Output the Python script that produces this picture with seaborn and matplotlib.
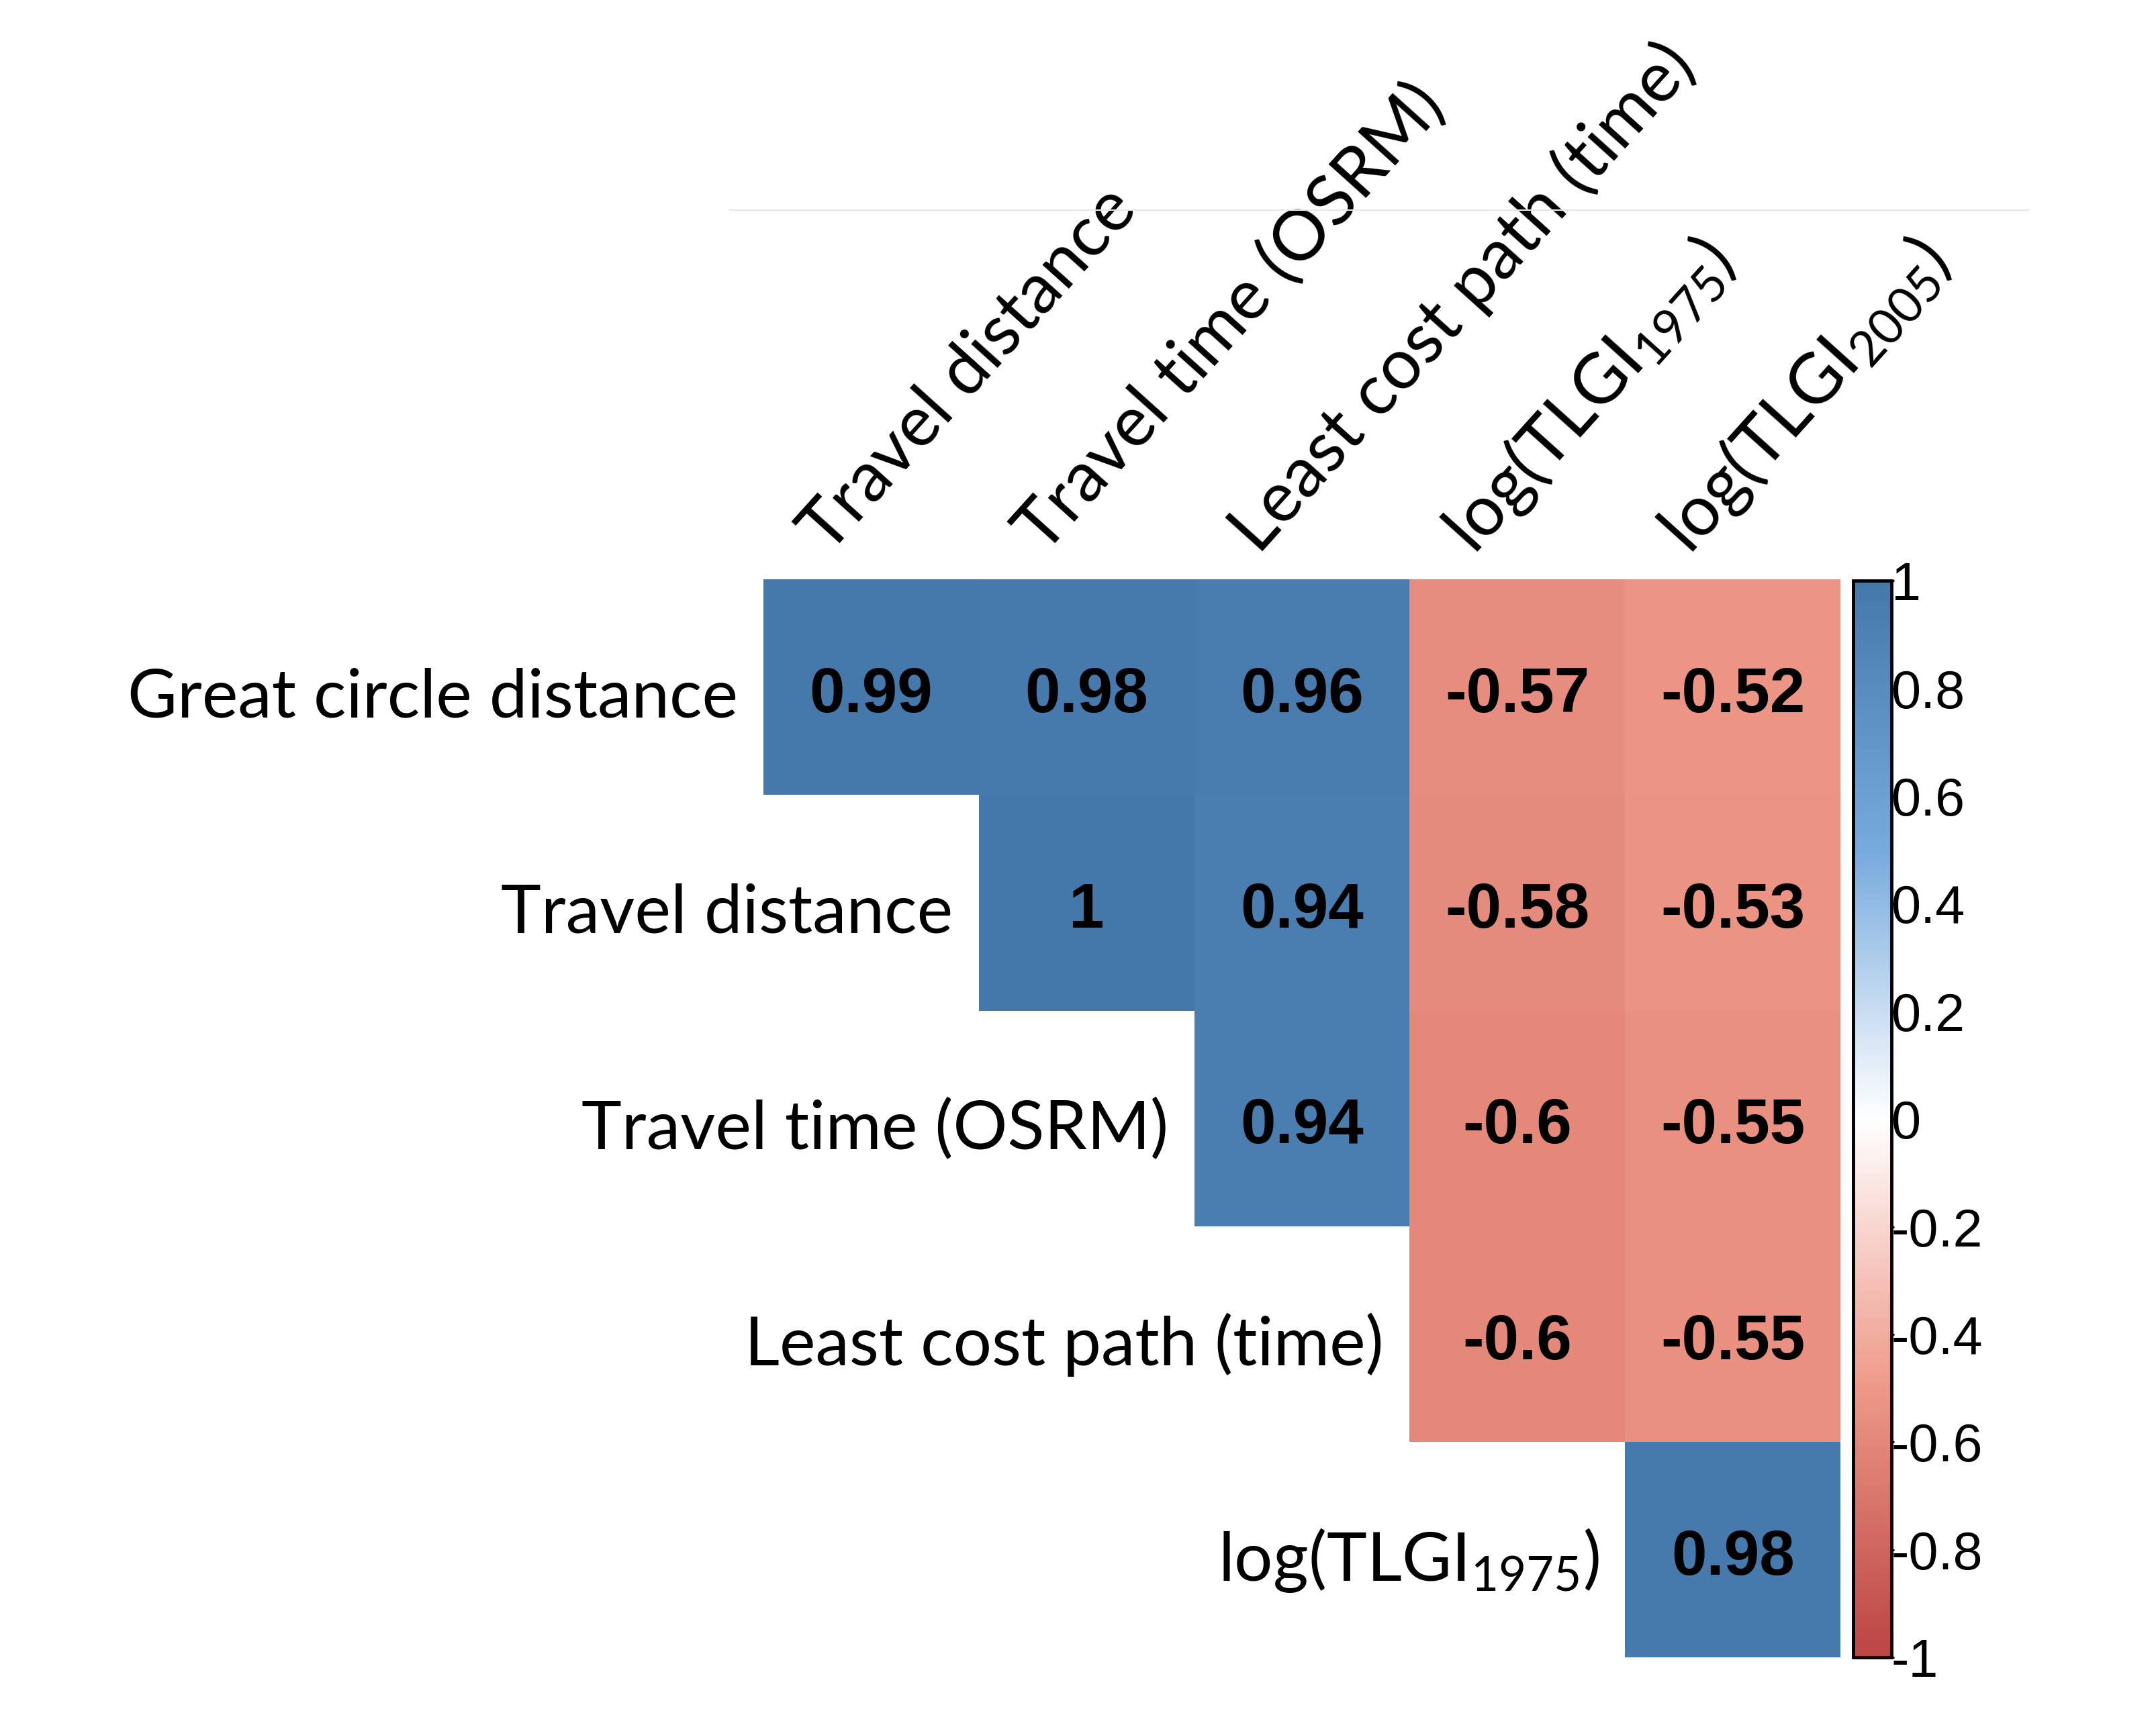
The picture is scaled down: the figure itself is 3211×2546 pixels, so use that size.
import numpy as np
import matplotlib
matplotlib.use("Agg")
import matplotlib.pyplot as plt
from matplotlib.colors import LinearSegmentedColormap
from matplotlib.lines import Line2D
import seaborn as sns

# correlation values (upper triangle only)
row_names = ["Great circle distance", "Travel distance", "Travel time (OSRM)",
             "Least cost path (time)", "log(TLGI$_{1975}$)"]
col_names = ["Travel distance", "Travel time (OSRM)", "Least cost path (time)",
             "log(TLGI$_{1975}$)", "log(TLGI$_{2005}$)"]
r_great_circle = [0.99, 0.98, 0.96, -0.57, -0.52]
r_travel_dist = [np.nan, 1.0, 0.94, -0.58, -0.53]
r_travel_time = [np.nan, np.nan, 0.94, -0.60, -0.55]
r_least_cost = [np.nan, np.nan, np.nan, -0.60, -0.55]
r_tlgi_1975 = [np.nan, np.nan, np.nan, np.nan, 0.98]
cbar_ticks = [1, 0.8, 0.6, 0.4, 0.2, 0, -0.2, -0.4, -0.6, -0.8, -1]

corr = np.array([r_great_circle, r_travel_dist, r_travel_time,
                 r_least_cost, r_tlgi_1975])
labels = np.array([["" if np.isnan(v) else f"{v:g}" for v in row] for row in corr])

sns.set_theme(style="white")
plt.rcParams["font.family"] = ["Lato", "DejaVu Sans"]
plt.rcParams["mathtext.fontset"] = "custom"
plt.rcParams["mathtext.rm"] = "Lato"
plt.rcParams["mathtext.default"] = "regular"

# corrplot-style diverging palette
cmap = LinearSegmentedColormap.from_list(
    "corrplot", ["#BB4444", "#EE9988", "#FFFFFF", "#77AADD", "#4477AA"])

fig = plt.figure(figsize=(32.12, 25.46), dpi=100)
ax = fig.add_axes([0.3540, 0.0302, 0.4994, 0.6308])
cax = fig.add_axes([0.8593, 0.0302, 0.0177, 0.6300])

sns.heatmap(corr, ax=ax, cbar_ax=cax, cmap=cmap, vmin=-1, vmax=1,
            annot=labels, fmt="", xticklabels=False, yticklabels=False,
            annot_kws={"fontsize": 68, "fontweight": "bold",
                       "family": "Liberation Sans", "color": "black"},
            cbar_kws={"ticks": cbar_ticks})

# numbers sit a touch below the cell centre in the reference
for t in ax.texts:
    x, y = t.get_position()
    t.set_position((x, y + 0.04))

# row labels sit left of the first filled cell in each row
for i, name in enumerate(row_names):
    ax.text(i - 0.12, i + 0.55, name, ha="right", va="center",
            fontsize=73, color="black", clip_on=False)

# column labels rotated above the top row
for j, name in enumerate(col_names):
    ax.text(j + 0.3, -0.11, name, rotation=48, rotation_mode="anchor",
            ha="left", va="baseline", fontsize=75, color="black",
            clip_on=False)

cbar = ax.collections[0].colorbar
cbar.outline.set_edgecolor("black")
cbar.outline.set_linewidth(3.5)
cbar.ax.tick_params(length=3, width=2, pad=-3, direction="out",
                    labelsize=57, colors="black")
cbar.ax.set_yticklabels([f"{t:g}" for t in cbar_ticks], family="Liberation Sans")

# faint rule across the top of the figure
fig.add_artist(Line2D([0.338, 0.941], [0.877, 0.877], color="#e6e6e6",
                      linewidth=1.5, transform=fig.transFigure))

fig.savefig("out.png", dpi=100, facecolor="white")
plt.close(fig)
